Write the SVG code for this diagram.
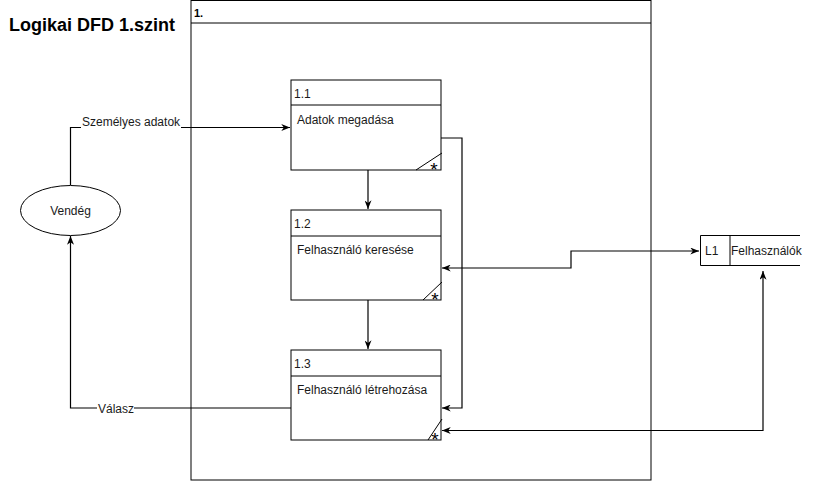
<svg xmlns="http://www.w3.org/2000/svg" width="818" height="482" viewBox="0 0 818 482">
<style>
.box{fill:#fff;stroke:#000;stroke-width:1}
.ln{fill:none;stroke:#000;stroke-width:1}
.t{font-family:"Liberation Sans",Arial,sans-serif;font-size:12px;fill:#1a1a1a}
.b{font-weight:bold;fill:#000}
.c{fill:none;stroke:#000;stroke-width:1.2}
.ast{font-family:"Liberation Sans",Arial,sans-serif;font-size:19px;fill:#000;text-anchor:middle}
</style>
<defs>
<marker id="ar" viewBox="0 0 10 8" refX="10" refY="4" markerWidth="9" markerHeight="7" markerUnits="userSpaceOnUse" orient="auto-start-reverse">
<path d="M0,0 L10,4 L0,8 L3,4 z" fill="#000"/>
</marker>
</defs>
<rect width="818" height="482" fill="#fff"/>
<text class="t b" x="9" y="31" style="font-size:18px">Logikai DFD 1.szint</text>

<g id="outer">
<rect class="box" x="191" y="0.5" width="460" height="479.5"/>
<line class="ln" x1="191" y1="23" x2="651" y2="23"/>
<text class="t b" x="194" y="17" style="font-size:11px">1.</text>
</g>

<g id="connectors">
<path class="c" d="M70.5,185 V127.5 H290" marker-end="url(#ar)"/>
<path class="c" d="M368,170 V209" marker-end="url(#ar)"/>
<path class="c" d="M368,300 V349" marker-end="url(#ar)"/>
<path class="c" d="M441,138 H462 V408 H442" marker-end="url(#ar)"/>
<path class="c" d="M442,268 H571 V251 H699" marker-start="url(#ar)" marker-end="url(#ar)"/>
<path class="c" d="M763,271 V430.5 H442" marker-start="url(#ar)" marker-end="url(#ar)"/>
<path class="c" d="M291,408 H70.5 V236" marker-end="url(#ar)"/>
<rect x="81" y="115" width="100" height="13" fill="#fff"/>
<text class="t" x="82" y="126">Személyes adatok</text>
<rect x="97" y="401" width="37" height="14" fill="#fff"/>
<text class="t" x="98" y="412.5">Válasz</text>
</g>

<g id="vendeg">
<ellipse class="box" cx="70.5" cy="210.5" rx="50" ry="25"/>
<text class="t" x="70.5" y="215" text-anchor="middle">Vendég</text>
</g>

<g id="p11">
<rect class="box" x="291" y="80" width="150" height="90"/>
<line class="ln" x1="291" y1="105" x2="441" y2="105"/>
<text class="t" x="294" y="98">1.1</text>
<text class="t" x="297" y="124">Adatok megadása</text>
<line class="ln" x1="416" y1="170" x2="442" y2="153"/>
<text class="ast" x="434" y="176">*</text>
</g>

<g id="p12">
<rect class="box" x="291" y="210" width="150" height="90"/>
<line class="ln" x1="291" y1="236" x2="441" y2="236"/>
<text class="t" x="294" y="228">1.2</text>
<text class="t" x="297" y="254">Felhasználó keresése</text>
<line class="ln" x1="423" y1="300" x2="442" y2="282"/>
<text class="ast" x="435" y="306">*</text>
</g>

<g id="p13">
<rect class="box" x="291" y="350" width="150" height="90"/>
<line class="ln" x1="291" y1="376" x2="441" y2="376"/>
<text class="t" x="294" y="368">1.3</text>
<text class="t" x="297" y="394">Felhasználó létrehozása</text>
<line class="ln" x1="428" y1="440" x2="442" y2="419"/>
<text class="ast" x="435" y="446">*</text>
</g>

<g id="l1">
<rect x="700" y="235" width="100" height="30" fill="#fff"/>
<path class="ln" d="M800,235.5 H700.5 V265.5 H800"/>
<line class="ln" x1="730" y1="235.5" x2="730" y2="265.5"/>
<text class="t" x="705" y="254.5">L1</text>
<text class="t" x="731" y="254.5">Felhasználók</text>
</g>
</svg>
